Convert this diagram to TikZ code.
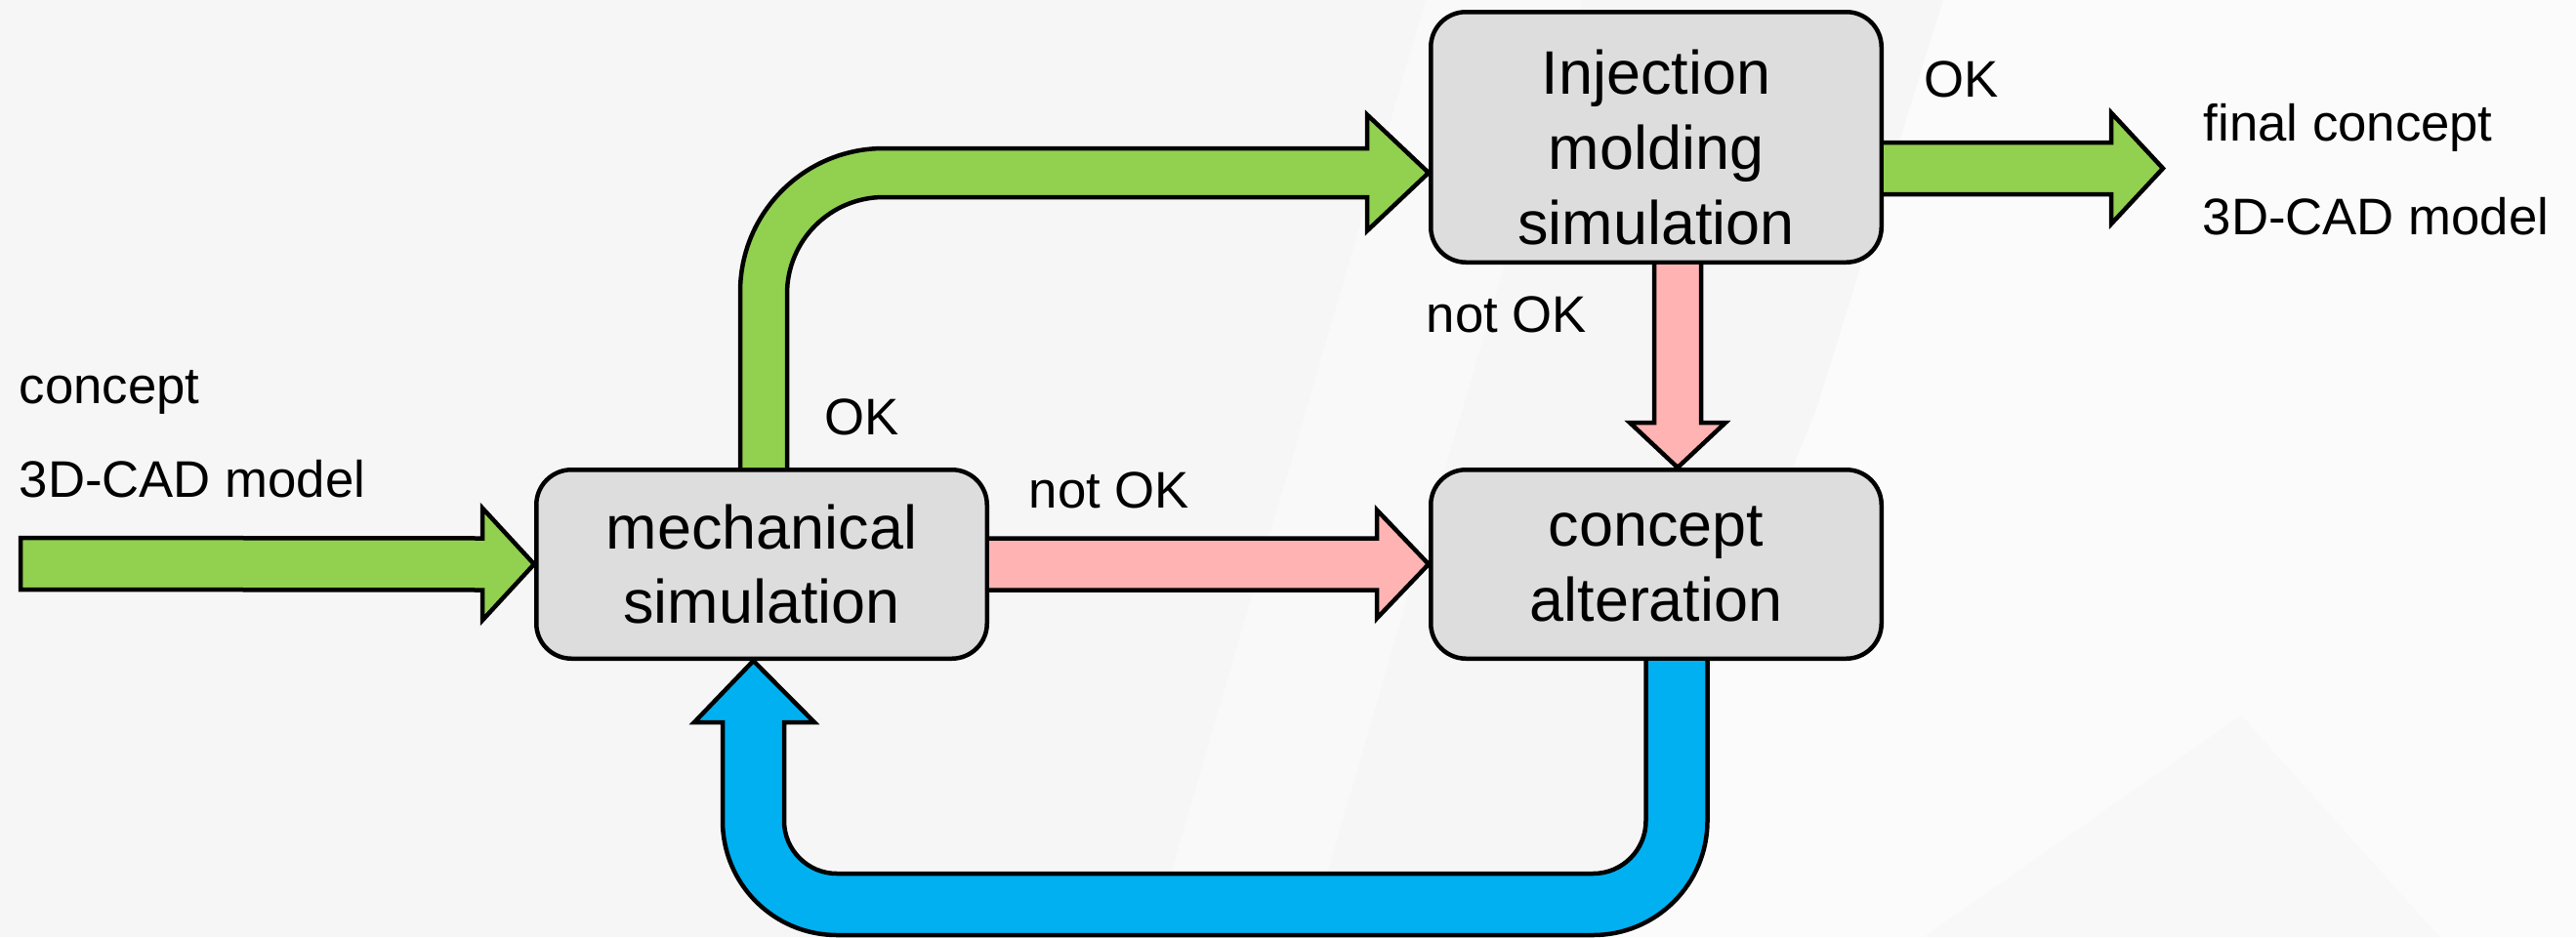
\documentclass[tikz,border=0pt]{standalone}
\usepackage{fontspec}
\setmainfont{Liberation Sans}
\usetikzlibrary{calc}

\definecolor{okgreen}{HTML}{92D050}
\definecolor{notokred}{HTML}{FFB3B3}
\definecolor{loopblue}{HTML}{00B0F0}
\definecolor{boxgray}{HTML}{DDDDDD}

\begin{document}
\begin{tikzpicture}[
        simbox/.style={draw, line width=0.045cm, fill=boxgray, rounded corners=0.36cm,
            minimum width=4.615cm, minimum height=1.935cm, inner sep=0pt, align=center,
            font=\fontsize{17.9}{21.9}\selectfont},
        okarrow/.style={draw, line width=0.045cm, fill=okgreen},
        notokarrow/.style={draw, line width=0.045cm, fill=notokred},
        backarrow/.style={draw, line width=0.045cm, fill=loopblue},
        lbl/.style={anchor=base west, inner sep=0pt, font=\fontsize{15}{18}\selectfont}
    ]

        \useasboundingbox (0,0) rectangle (26.38,9.60);
        \fill[black!3.5] (0,0) rectangle (26.38,9.60);
        \fill[black!1.5] (19.90,9.60) -- (26.38,9.60) -- (26.38,0) -- (16.40,0) -- (18.60,5.40) -- cycle;
        \fill[black!2.5] (11.80,0) -- (14.60,9.60) -- (16.20,9.60) -- (13.40,0) -- cycle;
        \fill[black!2.8] (19.70,0) -- (22.95,2.27) -- (24.98,0) -- cycle;

        \node[simbox] (mech) at (7.80,3.82) {mechanical\\simulation};
        \node[simbox] (alter) at (16.96,3.82) {concept\\alteration};
        \node[simbox, minimum height=2.565cm] (inj) at (16.96,8.195) {\rule{0pt}{0.66cm}Injection\\molding\\simulation};

        \coordinate (in) at (0.21,3.825);
        \coordinate (out) at (22.15,7.875);

        \draw[okarrow] ($(in)+(0,0.265)$) -- ($(mech.west)+(-0.53,0.265)$) -- ++(0,0.31) -- (mech.west)
            -- ($(mech.west)+(-0.53,-0.575)$) -- ++(0,0.31) -- ($(in)+(0,-0.265)$) -- cycle;

        \draw[notokarrow] ($(mech.east)+(0,0.265)$) -- ($(alter.west)+(-0.53,0.265)$) -- ++(0,0.29) -- (alter.west)
            -- ($(alter.west)+(-0.53,-0.555)$) -- ++(0,0.29) -- ($(mech.east)+(0,-0.265)$);

        \draw[okarrow] ($(mech.north)+(-0.22,0)$) -- ++(0,1.80) arc[start angle=180, end angle=90, radius=1.47]
            -- ($(inj.west)+(-0.63,-0.115)$) -- ++(0,0.345) -- ($(inj.west)+(0,-0.365)$)
            -- ($(inj.west)+(-0.63,-0.96)$) -- ++(0,0.345) -- ($(mech.north)+(1.25,2.77)$)
            arc[start angle=90, end angle=180, radius=0.99] -- ($(mech.north)+(0.26,0)$);

        \draw[okarrow] ($(inj.east)+(0,-0.055)$) -- ($(out)+(-0.53,0.265)$) -- ++(0,0.305) -- (out)
            -- ($(out)+(-0.53,-0.57)$) -- ++(0,0.305) -- ($(inj.east)+(0,-0.585)$);

        \draw[notokarrow] ($(inj.south)+(-0.02,0)$) -- ($(alter.north)+(-0.02,0.46)$) -- ++(-0.25,0)
            -- ($(alter.north)+(0.22,0)$) -- ($(alter.north)+(0.71,0.46)$) -- ++(-0.25,0) -- ($(inj.south)+(0.46,0)$);

        \draw[backarrow] ($(alter.south)+(0.525,0)$) -- ++(0,-1.64) arc[start angle=0, end angle=-90, radius=1.17]
            -- ($(mech.south)+(0.77,-2.81)$) arc[start angle=-90, end angle=-180, radius=1.17]
            -- ++(0,1.01) -- ++(-0.29,0) -- ($(mech.south)+(-0.085,0)$) -- ($(mech.south)+(0.54,-0.63)$)
            -- ++(-0.31,0) -- ++(0,-1.01) arc[start angle=180, end angle=270, radius=0.54]
            -- ($(alter.south)+(-0.645,-2.18)$) arc[start angle=270, end angle=360, radius=0.54]
            -- ($(alter.south)+(-0.105,0)$);

        \node[lbl] (conceptin) at (0.19,5.47) {concept};
        \node[lbl] (cadin) at (0.19,4.51) {3D-CAD model};
        \node[lbl] (okmech) at (8.44,5.15) {OK};
        \node[lbl] (notokmech) at (10.53,4.40) {not OK};
        \node[lbl] (okinj) at (19.70,8.61) {OK};
        \node[lbl] (notokinj) at (14.60,6.20) {not OK};
        \node[lbl] (conceptout) at (22.56,8.16) {final concept};
        \node[lbl] (cadout) at (22.55,7.20) {3D-CAD model};

    \end{tikzpicture}
\end{document}
